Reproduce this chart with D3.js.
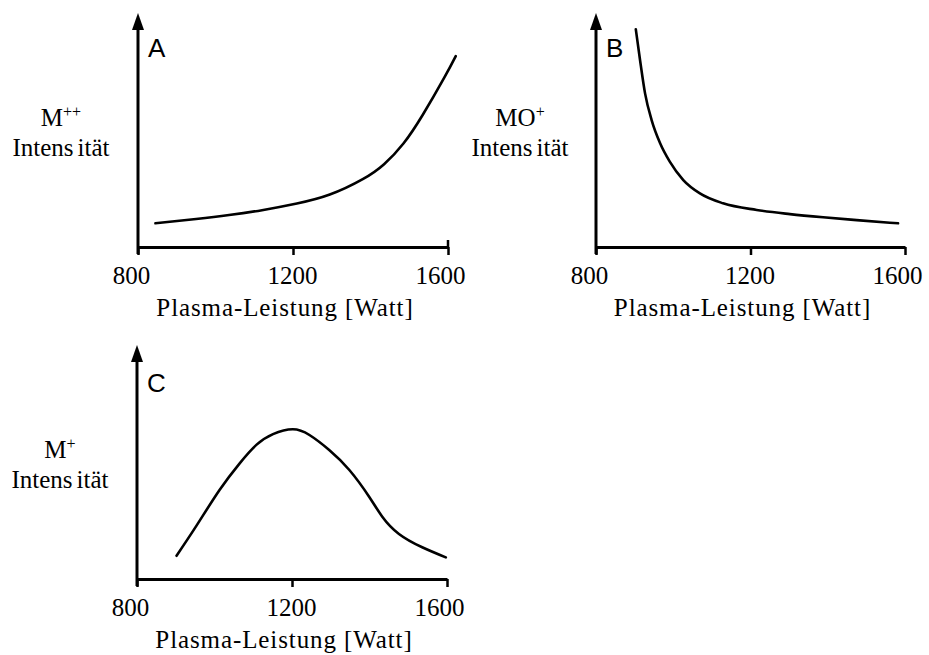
<!DOCTYPE html>
<html><head><meta charset="utf-8">
<script src="https://cdn.jsdelivr.net/npm/d3@7"></script>
<style>body{margin:0;background:#fff}</style>
</head><body>
<svg id="chart" width="929" height="655"></svg>
<script>
// ---- data ----
const xTickValues = [800, 1200, 1600];
const xTickLabels = ["800", "1200", "1600"];
const xTitle = "Plasma-Leistung [Watt]";
const yTitle = "Intensität";
const panelLetters = ["A", "B", "C"];
const ionMain = ["M", "MO", "M"];
const ionCharge = ["++", "+", "+"];

const powerA = [845, 950, 1035, 1120, 1210, 1295, 1380, 1435, 1485, 1535, 1590, 1620];
const intensityA = [10.3, 12.2, 13.9, 16.0, 18.9, 22.8, 29.5, 36.0, 45.0, 57.5, 73.5, 83.0];

const powerB = [903, 914, 927, 944, 966, 991, 1026, 1069, 1129, 1216, 1302, 1388, 1475, 1582];
const intensityB = [94.7, 81.3, 66.8, 55.2, 45.1, 37.1, 29.1, 23.3, 19, 16.1, 14.3, 12.9, 11.7, 10.3];

const powerC = [902, 954, 1013, 1065, 1108, 1151, 1202, 1245, 1296, 1348, 1399, 1433, 1476, 1536, 1597];
const intensityC = [10.1, 23.3, 38.7, 50.3, 58.3, 63, 65.1, 62.6, 56.1, 47.4, 35.8, 27.1, 19.6, 13.8, 9.4];

const seriesPower = [powerA, powerB, powerC];
const seriesIntensity = [intensityA, intensityB, intensityC];

// ---- layout ----
const layout = [
  {left: 138, right: 448, bottom: 247, labelX: 61, upTick: true, curve: d3.curveNatural},
  {left: 596, right: 905, bottom: 247, labelX: 520, upTick: false, curve: d3.curveMonotoneX},
  {left: 137, right: 447, bottom: 579, labelX: 60, upTick: false, curve: d3.curveNatural}
];
const tickDx = [-7, -1, -8];
const serif = "'Liberation Serif', 'Times New Roman', serif";
const sans = "'Liberation Sans', Arial, sans-serif";

const svg = d3.select("#chart");

layout.forEach((L, i) => {
  const g = svg.append("g");
  const x = d3.scaleLinear().domain([800, 1600]).range([L.left, L.right]);
  const y = d3.scaleLinear().domain([0, 100]).range([L.bottom, L.bottom - 230]);

  // y axis line with arrow
  g.append("line")
    .attr("x1", L.left).attr("x2", L.left)
    .attr("y1", L.bottom + 7).attr("y2", L.bottom - 218)
    .attr("stroke", "#000").attr("stroke-width", 3);
  g.append("path")
    .attr("d", `M${L.left},${L.bottom - 234} L${L.left - 6},${L.bottom - 217} L${L.left + 6},${L.bottom - 217} Z`)
    .attr("fill", "#000");

  // x axis
  const ax = g.append("g")
    .attr("transform", `translate(0,${L.bottom})`)
    .call(d3.axisBottom(x).tickValues(xTickValues).tickSizeInner(8).tickSizeOuter(0)
      .tickFormat((d, k) => xTickLabels[k]));
  ax.select(".domain").attr("stroke", "#000").attr("stroke-width", 3);
  ax.selectAll(".tick line").attr("stroke", "#000").attr("stroke-width", 2.5);
  ax.selectAll(".tick text")
    .attr("y", 37).attr("dy", 0)
    .attr("dx", (d, k) => tickDx[k])
    .attr("fill", "#000")
    .style("font-family", serif).style("font-size", "25px");
  if (L.upTick) {
    g.append("line")
      .attr("x1", x(1600)).attr("x2", x(1600))
      .attr("y1", L.bottom - 7).attr("y2", L.bottom)
      .attr("stroke", "#000").attr("stroke-width", 2.5);
  }

  // x title
  g.append("text")
    .attr("x", (L.left + L.right) / 2 - 8)
    .attr("y", L.bottom + 69)
    .attr("text-anchor", "middle")
    .style("font-family", serif).style("font-size", "25px")
    .style("letter-spacing", "0.9px")
    .text(xTitle);

  // y label
  const t1 = g.append("text")
    .attr("x", L.labelX).attr("y", L.bottom - 121)
    .attr("text-anchor", "middle")
    .style("font-family", serif).style("font-size", "25px");
  t1.append("tspan").text(ionMain[i]);
  t1.append("tspan").attr("dy", -9).style("font-size", "16px").text(ionCharge[i]);

  const t2 = g.append("text")
    .attr("x", L.labelX).attr("y", L.bottom - 91)
    .attr("text-anchor", "middle")
    .style("font-family", serif).style("font-size", "25px");
  t2.append("tspan").text(yTitle.slice(0, 6));
  t2.append("tspan").attr("dx", 4).text(yTitle.slice(6));

  // panel letter
  g.append("text")
    .attr("x", L.left + 10).attr("y", L.bottom - 190 + (i === 2 ? 3 : 0))
    .style("font-family", sans).style("font-size", "26px")
    .text(panelLetters[i]);

  // curve
  const pts = seriesPower[i].map((p, k) => [p, seriesIntensity[i][k]]);
  g.append("path")
    .datum(pts)
    .attr("fill", "none")
    .attr("stroke", "#000")
    .attr("stroke-width", 2.6)
    .attr("stroke-linecap", "round")
    .attr("d", d3.line().x(d => x(d[0])).y(d => y(d[1])).curve(L.curve));
});
</script>
</body></html>
